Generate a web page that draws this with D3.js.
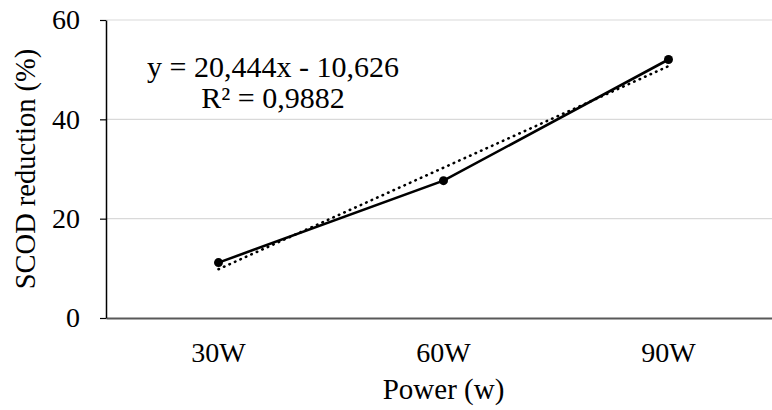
<!DOCTYPE html>
<html>
<head>
<meta charset="utf-8">
<script src="https://cdn.jsdelivr.net/npm/d3@7"></script>
<style>
  body { margin: 0; background: #fff; }
  text { font-family: "Liberation Serif", "Times New Roman", serif; fill: #000; }
</style>
</head>
<body>
<div id="chart"></div>
<script>
// data
const categories = ["30W", "60W", "90W"];
const reduction = [11.15, 27.65, 52.05];
const trendValues = [9.818, 30.262, 50.706];   // y = 20,444x - 10,626 at x = 1..3
const yTicks = [0, 20, 40, 60];
const equationLines = ["y = 20,444x - 10,626", "R\u00B2 = 0,9882"];

const width = 772;
const height = 410;
const plot = { left: 106, top: 20, bottom: 318, right: 781 };

const svg = d3.select("#chart")
    .append("svg")
    .attr("width", width)
    .attr("height", height);

const xScale = d3.scaleBand()
    .domain(categories)
    .range([plot.left, plot.right]);

const yScale = d3.scaleLinear()
    .domain([0, 60])
    .range([plot.bottom, plot.top]);

const cx = d => xScale(d) + xScale.bandwidth() / 2;

// gridlines
svg.append("g")
    .selectAll("line")
    .data(yTicks.filter(d => d > 0))
    .join("line")
    .attr("x1", plot.left)
    .attr("x2", width)
    .attr("y1", d => yScale(d))
    .attr("y2", d => yScale(d))
    .attr("stroke", "#d9d9d9")
    .attr("stroke-width", 1.2);

// x axis (line only, no ticks)
const xAxis = svg.append("g")
    .attr("transform", `translate(0,${plot.bottom})`)
    .call(d3.axisBottom(xScale).tickSize(0).tickPadding(24));
xAxis.select(".domain").attr("stroke", "#595959").attr("stroke-width", 1.8);
xAxis.selectAll("text")
    .style("font-family", "'Liberation Serif', 'Times New Roman', serif")
    .style("font-size", "28px")
    .attr("fill", "#000");

// y axis
const yAxis = svg.append("g")
    .attr("transform", `translate(${plot.left},0)`)
    .call(d3.axisLeft(yScale).tickValues(yTicks).tickSize(6).tickPadding(20).tickSizeOuter(0));
yAxis.select(".domain").attr("stroke", "#000").attr("stroke-width", 1.5);
yAxis.selectAll(".tick line").attr("stroke", "#000").attr("stroke-width", 1.2);
yAxis.selectAll("text")
    .style("font-family", "'Liberation Serif', 'Times New Roman', serif")
    .style("font-size", "28px")
    .attr("fill", "#000");

// trend line (dotted)
const points = categories.map((c, i) => ({ c, v: reduction[i], t: trendValues[i] }));

svg.append("path")
    .datum(points)
    .attr("fill", "none")
    .attr("stroke", "#000")
    .attr("stroke-width", 2.6)
    .attr("stroke-linecap", "round")
    .attr("stroke-dasharray", "0.5,5.5")
    .attr("d", d3.line().x(d => cx(d.c)).y(d => yScale(d.t)));

// data line
svg.append("path")
    .datum(points)
    .attr("fill", "none")
    .attr("stroke", "#000")
    .attr("stroke-width", 2.6)
    .attr("d", d3.line().x(d => cx(d.c)).y(d => yScale(d.v)));

svg.append("g")
    .selectAll("circle")
    .data(points)
    .join("circle")
    .attr("cx", d => cx(d.c))
    .attr("cy", d => yScale(d.v))
    .attr("r", 4.5)
    .attr("fill", "#000");

// equation
svg.append("g")
    .selectAll("text")
    .data(equationLines)
    .join("text")
    .attr("x", 273)
    .attr("y", (d, i) => 77 + i * 31)
    .attr("text-anchor", "middle")
    .style("font-size", "30px")
    .text(d => d);

// axis titles
svg.append("text")
    .attr("x", cx("60W"))
    .attr("y", 399)
    .attr("text-anchor", "middle")
    .style("font-size", "29px")
    .text("Power (w)");

svg.append("text")
    .attr("transform", `translate(35,${(plot.top + plot.bottom) / 2}) rotate(-90)`)
    .attr("text-anchor", "middle")
    .style("font-size", "28.5px")
    .text("SCOD reduction (%)");
</script>
</body>
</html>
